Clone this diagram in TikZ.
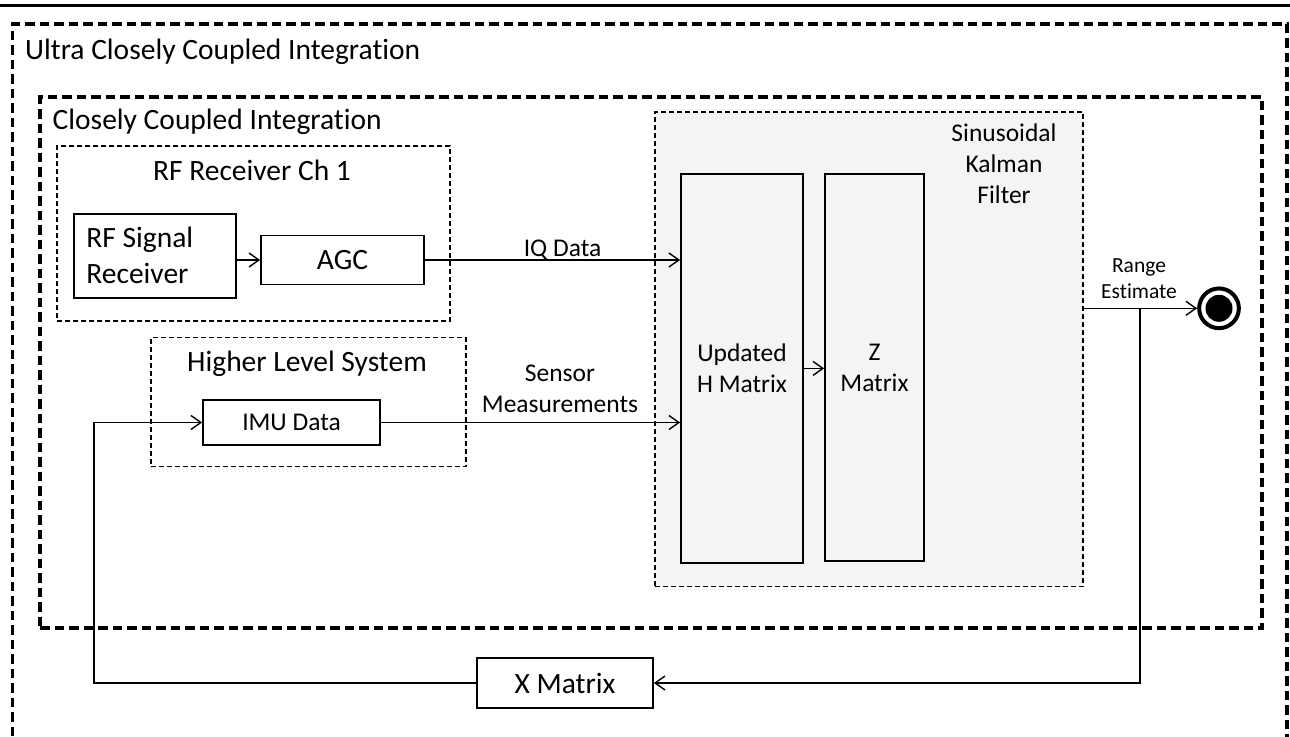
\documentclass[tikz,border=0pt]{standalone}
\usepackage{fontspec}
\setmainfont{Carlito}[Ligatures=NoCommon]
\usetikzlibrary{arrows.meta}
\definecolor{kfgray}{RGB}{243,244,246}
\begin{document}
\begin{tikzpicture}[x=1pt,y=-1pt,
  bigframe/.style={draw, line width=3.3pt, dash pattern=on 9.5pt off 5pt, rectangle, inner sep=0pt},
  smallframe/.style={draw, line width=1.3pt, dash pattern=on 5pt off 3pt, rectangle, inner sep=0pt},
  block/.style={draw, line width=1.7pt, rectangle, inner sep=0pt},
  bigtext/.style={font={\fontsize{29.5}{36}\selectfont}},
  midtext/.style={font={\fontsize{25.5}{31}\selectfont}},
  rangetext/.style={font={\fontsize{21.5}{26}\selectfont}},
  flow/.style={line width=1.4pt, -{Straight Barb[length=10pt,width=14pt]}},
  lbl/.style={inner sep=0pt, anchor=base},
]
\useasboundingbox (0,0) rectangle (1290,736);
\fill[white] (0,0) rectangle (1290,736);

% rule across the top
\draw[line width=3pt] (0,5.7) -- (1290,5.7);

% nested integration frames
\node[bigframe, minimum width=1274.3pt, minimum height=736pt] (ucci) at (649.85,392) {};
\node[bigframe, minimum width=1222pt, minimum height=531pt] (cci) at (651,362.5) {};
\node[bigtext, lbl, anchor=base west] (ucciLabel) at (25,59.3) {Ultra Closely Coupled Integration};
\node[bigtext, lbl, anchor=base west] (cciLabel) at (52.5,129.3) {Closely Coupled Integration};

% receiver channel
\node[smallframe, minimum width=393pt, minimum height=175pt] (rfbox) at (253.5,233.5) {};
\node[bigtext, lbl] (rfLabel) at (252,180) {RF Receiver Ch 1};
\node[block, minimum width=162pt, minimum height=84pt] (rfsig) at (155,256) {};
\node[bigtext, align=left, inner sep=0pt, anchor=west] (rfsigText) at ([xshift=13pt,yshift=1pt]rfsig.west) {RF Signal\\Receiver};
\node[block, bigtext, minimum width=163pt, minimum height=49pt] (agc) at (342.5,260) {AGC};

% higher level system
\node[smallframe, minimum width=315pt, minimum height=129pt] (hls) at (308.5,402) {};
\node[bigtext, lbl] (hlsLabel) at (307,371.7) {Higher Level System};
\node[block, midtext, minimum width=177pt, minimum height=45pt] (imu) at (291.5,422.5) {IMU Data};

% sinusoidal Kalman filter
\node[smallframe, fill=kfgray, minimum width=428pt, minimum height=474.7pt] (kf) at (869,349.35) {};
\node[midtext, align=center, inner sep=0pt] (kfLabel) at (1004,164) {Sinusoidal\\Kalman\\Filter};
\node[block, midtext, fill=kfgray, align=center, minimum width=122pt, minimum height=389pt] (hmat) at (742,368.4) {Updated\\H Matrix};
\node[block, midtext, fill=kfgray, align=center, minimum width=99pt, minimum height=387pt] (zmat) at (874.5,367.5) {Z\\Matrix};

% output terminal
\node[circle, draw, line width=4pt, minimum size=39.7pt, inner sep=0pt] (endc) at (1219,308.3) {};
\node[circle, fill, minimum size=27pt, inner sep=0pt] (endcore) at (endc) {};

% feedback block
\node[block, bigtext, minimum width=176pt, minimum height=50pt] (xmat) at (565,683) {X Matrix};

% connector labels
\node[midtext, lbl] (iqLabel) at (562.5,256) {IQ Data};
\node[midtext, align=center, inner sep=0pt] (sensLabel) at (560,389) {Sensor\\Measurements};
\node[rangetext, align=center, inner sep=0pt] (rangeLabel) at (1139,279) {Range\\Estimate};

% connectors
\draw[flow] (rfsig.east |- agc.west) -- (agc.west);
\draw[flow] (agc.east) -- (agc.east -| hmat.west);
\draw[flow] (imu.east) -- (imu.east -| hmat.west);
\draw[flow] (hmat.east) -- (hmat.east -| zmat.west);
\draw[flow] (endc -| kf.east) -- (endc.west);
\path (endc) ++(-79,0) coordinate (tap);
\draw[flow] (tap) |- (xmat.east);
\path (xmat.west) ++(-382,0) coordinate (fbcorner);
\draw[flow] (xmat.west) -- (fbcorner) |- (imu.west);
\end{tikzpicture}
\end{document}
